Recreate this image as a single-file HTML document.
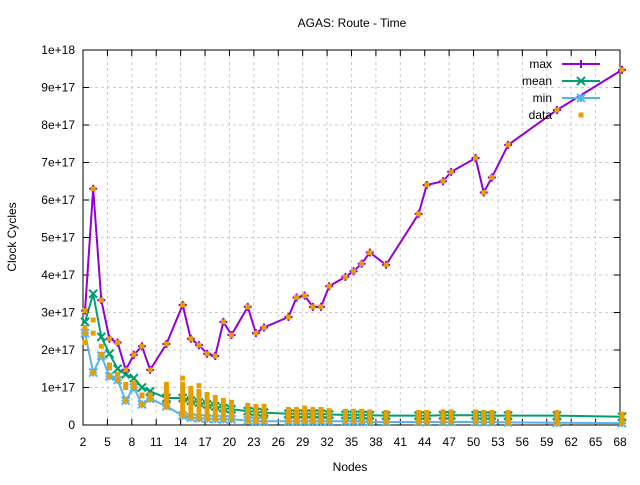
<!DOCTYPE html>
<html><head><meta charset="utf-8"><style>
body{margin:0;background:#fff}
svg text{font-family:"Liberation Sans",sans-serif;font-size:12px;fill:#000}
</style></head><body>
<svg id="s" width="640" height="480" xmlns="http://www.w3.org/2000/svg"></svg>
<script>
const s=document.getElementById('s');let h='';
const XT=n=>83+(n-2)*(537/66), X=n=>XT(n+0.25), Y=v=>425-v*37.5;
for(let n=2;n<=68;n+=3){const x=XT(n);if(n>2&&n<68)h+=`<line x1="${x}" y1="50" x2="${x}" y2="425" stroke="#ccc" stroke-dasharray="3,3"/>`;
h+=`<line x1="${x}" y1="425" x2="${x}" y2="419" stroke="#000"/><line x1="${x}" y1="50" x2="${x}" y2="56" stroke="#000"/><text x="${x}" y="446" text-anchor="middle">${n}</text>`;}
for(let i=0;i<=10;i++){const y=Y(i);if(i>0&&i<10)h+=`<line x1="83" y1="${y}" x2="620" y2="${y}" stroke="#ccc" stroke-dasharray="3,3"/>`;
h+=`<line x1="83" y1="${y}" x2="89" y2="${y}" stroke="#000"/><line x1="620" y1="${y}" x2="614" y2="${y}" stroke="#000"/><text x="75" y="${y+4}" text-anchor="end">${i==0?'0':i==10?'1e+18':i+'e+17'}</text>`;}
h+=`<rect x="83" y="50" width="537" height="375" fill="none" stroke="#000"/>`;
h+=`<text x="352" y="27" text-anchor="middle">AGAS: Route - Time</text><text x="350" y="471" text-anchor="middle">Nodes</text><text transform="translate(16,237) rotate(-90)" text-anchor="middle">Clock Cycles</text>`;
const mx=[[2,3.05],[3,6.3],[4,3.33],[5,2.3],[6,2.2],[7,1.47],[8,1.87],[9,2.1],[10,1.47],[12,2.16],[14,3.2],[15,2.3],[16,2.13],[17,1.9],[18,1.84],[19,2.75],[20,2.4],[22,3.15],[23,2.45],[24,2.6],[27,2.88],[28,3.4],[29,3.45],[30,3.15],[31,3.15],[32,3.7],[34,3.95],[35,4.1],[36,4.3],[37,4.6],[39,4.27],[43,5.63],[44,6.4],[46,6.5],[47,6.75],[50,7.12],[51,6.2],[52,6.6],[54,7.47],[60,8.4],[68,9.47]];
const mn=[[2,2.75],[3,3.5],[4,2.35],[5,1.9],[6,1.5],[7,1.35],[8,1.25],[9,1.0],[10,0.9],[12,0.72],[14,0.72],[15,0.65],[16,0.6],[17,0.55],[18,0.5],[19,0.45],[20,0.42],[22,0.37],[23,0.35],[24,0.33],[27,0.3],[28,0.3],[29,0.3],[30,0.3],[31,0.3],[32,0.28],[34,0.27],[35,0.27],[36,0.27],[37,0.26],[39,0.25],[43,0.25],[44,0.25],[46,0.26],[47,0.26],[50,0.26],[51,0.25],[52,0.25],[54,0.25],[60,0.25],[68,0.22]];
const mi=[[2,2.45],[3,1.4],[4,1.85],[5,1.3],[6,1.2],[7,0.65],[8,1.0],[9,0.55],[10,0.7],[12,0.5],[14,0.25],[15,0.2],[16,0.18],[17,0.17],[18,0.16],[19,0.15],[20,0.15],[22,0.12],[23,0.1],[24,0.1],[27,0.1],[28,0.1],[29,0.1],[30,0.1],[31,0.1],[32,0.1],[34,0.1],[35,0.1],[36,0.1],[37,0.08],[39,0.08],[43,0.08],[44,0.08],[46,0.08],[47,0.08],[50,0.08],[51,0.08],[52,0.08],[54,0.07],[60,0.06],[68,0.05]];
function line(d,c,m){h+=`<polyline fill="none" stroke="${c}" stroke-width="2" points="${d.map(p=>X(p[0])+','+Y(p[1])).join(' ')}"/>`;
d.forEach(p=>{h+=mk(X(p[0]),Y(p[1]),c,m);});}
function mk(x,y,c,m){let r='';if(m!='x')r+=`<path d="M${x-4} ${y}h8M${x} ${y-4}v8" stroke="${c}" stroke-width="2"/>`;
if(m!='+')r+=`<path d="M${x-4} ${y-4}l8 8M${x-4} ${y+4}l8 -8" stroke="${c}" stroke-width="2"/>`;return r;}
line(mi,'#56b4e9','*');line(mn,'#009e73','x');line(mx,'#9400d3','+');
const sq=(x,y)=>`<rect x="${x-2.5}" y="${y-2.5}" width="5" height="5" fill="#e69f00"/>`;
for(let i=0;i<mx.length;i++){const n=mx[i][0],a=mx[i][1],b=mi[i][1],m=mn[i][1];const x=X(n);
h+=sq(x,Y(a));h+=sq(x,Y(b));
if(n>=12){const t=Math.min(m*1.6,a);h+=`<rect x="${x-2.5}" y="${Y(t)}" width="5" height="${(t-b)*37.5}" fill="#e69f00"/>`;}
else{h+=sq(x,Y(m*0.8));h+=sq(x,Y((m+b)/2));}}
h+=sq(X(14),Y(1.25))+sq(X(16),Y(1.05))+sq(X(16),Y(0.85))+sq(X(24),Y(0.5))+sq(X(29),Y(0.45));
[['max','#9400d3','+'],['mean','#009e73','x'],['min','#56b4e9','*']].forEach((l,i)=>{const y=64+i*17;
h+=`<text x="552" y="${y+4}" text-anchor="end">${l[0]}</text><line x1="562" y1="${y}" x2="600" y2="${y}" stroke="${l[1]}" stroke-width="2"/>`+mk(581,y,l[1],l[2]);});
h+=`<text x="552" y="119" text-anchor="end">data</text>`+sq(581,115);
s.innerHTML=h;
</script>
</body></html>
